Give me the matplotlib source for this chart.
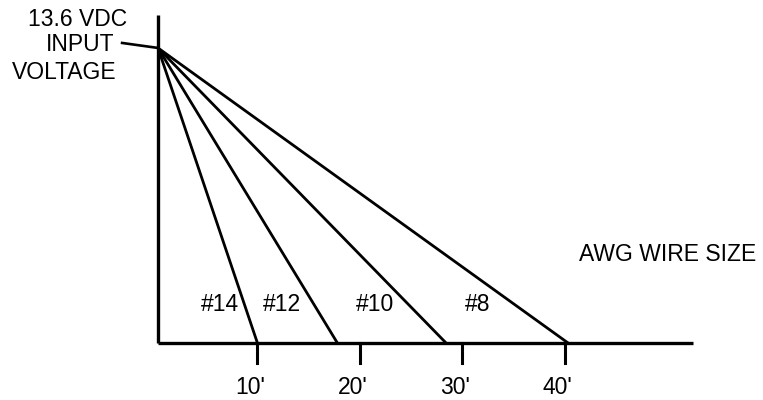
import matplotlib
matplotlib.use("Agg")
import matplotlib.pyplot as plt

plt.rcParams['font.family'] = ['Liberation Sans', 'DejaVu Sans']

# data
wire_sizes = ["#14", "#12", "#10", "#8"]
max_run_ft = [9.7, 17.5, 28.1, 40.0]   # where each line drops to zero
input_volts = 13.6
tick_ft = [10, 20, 30, 40]
tick_labels = ["10'", "20'", "30'", "40'"]
label_pos = [(6.0, 1.75), (12.1, 1.75), (21.2, 1.75), (31.2, 1.75)]

fs = 16.5

fig = plt.figure(figsize=(7.63, 4.0), dpi=100)
ax = fig.add_axes([0, 0, 1, 1])
ax.set_xlim(-15.41, 59.02)
ax.set_ylim(-2.63, 15.81)

# axes lines
ax.plot([0, 0], [0, 15.1], color='black', lw=2.4, solid_capstyle='butt')
ax.plot([0, 52.2], [0, 0], color='black', lw=2.4, solid_capstyle='butt')

# voltage drop lines
for run in max_run_ft:
    ax.plot([0, run], [input_volts, 0], color='black', lw=2.0)

for name, (x, y) in zip(wire_sizes, label_pos):
    ax.text(x, y, name, ha='center', va='center', fontsize=fs)

# ticks under the horizontal axis
for t, lab in zip(tick_ft, tick_labels):
    ax.plot([t - 0.3, t - 0.3], [0, -0.92], color='black', lw=2.2)
    ax.text(t - 1.0, -2.07, lab, ha='center', va='center', fontsize=fs)

# input voltage label and leader
ax.text(-7.8, 14.89, "13.6 VDC", ha='center', va='center', fontsize=fs)
ax.text(-7.6, 13.74, "INPUT", ha='center', va='center', fontsize=fs)
ax.text(-9.1, 12.49, "VOLTAGE", ha='center', va='center', fontsize=fs)
ax.plot([-3.5, 0], [13.83, input_volts], color='black', lw=1.9)

ax.text(49.7, 4.06, "AWG WIRE SIZE", ha='center', va='center', fontsize=fs)

ax.axis('off')
fig.savefig("out.png", dpi=100, facecolor='white')
